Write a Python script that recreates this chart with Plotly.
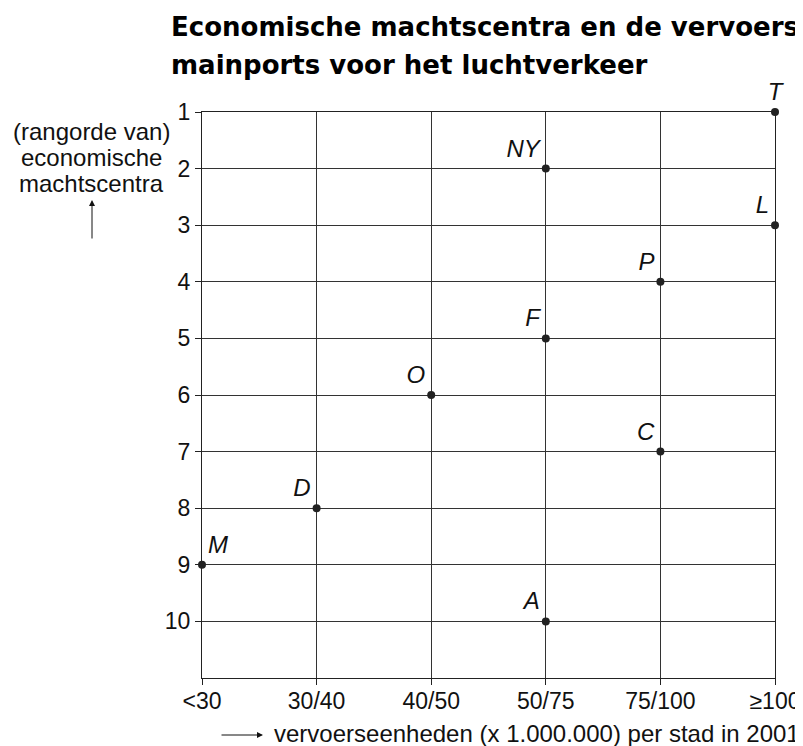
import plotly.graph_objects as go

# Data
categories = ["<30", "30/40", "40/50", "50/75", "75/100", "≥100"]
city_labels = ["M", "D", "O", "NY", "F", "A", "P", "C", "T", "L"]
city_x = [0, 1, 2, 3, 3, 3, 4, 4, 5, 5]          # category index
city_rank = [9, 8, 6, 2, 5, 10, 4, 7, 1, 3]
label_pos = ["top right", "top left", "top left", "top left", "top left",
             "top left", "top left", "top left", "top center", "top left"]
rank_ticks = list(range(1, 11))

FONT = "Liberation Sans, Arial, sans-serif"
TFONT = "DejaVu Sans, Liberation Sans, sans-serif"
OFF = 8                       # page body margin
W, H = 795, 738
L, T = 202 - OFF, 112 - OFF
PW, PH = 573, 566
R, B = W - L - PW, H - T - PH
X0, Y1 = 202, 678            # plot area left / bottom in window pixels


def px_x(x):
    return (x - X0) / PW


def px_y(y):
    return (Y1 - y) / PH


fig = go.Figure()
fig.add_trace(go.Scatter(
    x=city_x, y=city_rank, mode="markers+text",
    text=["<i>%s</i>" % s for s in city_labels],
    textposition=label_pos,
    textfont=dict(family=FONT, size=24, color="#111"),
    marker=dict(size=8, color="#222"),
    cliponaxis=False, showlegend=False, hoverinfo="skip",
))

axis_common = dict(
    showline=True, linecolor="#222", linewidth=1.2, mirror=True,
    showgrid=True, gridcolor="#333", gridwidth=1,
    ticks="outside", ticklen=6, tickcolor="#222",
    tickfont=dict(family=FONT, size=23, color="#111"),
    zeroline=False, fixedrange=True, automargin=False,
)
fig.update_xaxes(range=[0, 5], tickvals=list(range(len(categories))),
                 ticktext=categories, ticklabelstandoff=-4, **axis_common)
fig.update_yaxes(range=[11, 1], tickvals=rank_ticks, **axis_common)

annotations = [
    dict(text="<b>Economische machtscentra en de vervoers</b>", x=px_x(169), y=px_y(27),
         xanchor="left", yanchor="middle", font=dict(family=TFONT, size=26, color="#000")),
    dict(text="<b>mainports voor het luchtverkeer</b>", x=px_x(169), y=px_y(65),
         xanchor="left", yanchor="middle", font=dict(family=TFONT, size=26, color="#000")),
    dict(text="(rangorde van)", x=px_x(91), y=px_y(131),
         xanchor="center", yanchor="middle", font=dict(family=FONT, size=24, color="#111")),
    dict(text="economische", x=px_x(91), y=px_y(157),
         xanchor="center", yanchor="middle", font=dict(family=FONT, size=24, color="#111")),
    dict(text="machtscentra", x=px_x(91), y=px_y(183),
         xanchor="center", yanchor="middle", font=dict(family=FONT, size=24, color="#111")),
    dict(text="", x=px_x(92), y=px_y(200), ax=0, ay=40, showarrow=True,
         arrowhead=2, arrowsize=1.2, arrowwidth=1, arrowcolor="#111"),
    dict(text="vervoerseenheden (x 1.000.000) per stad in 2001", x=px_x(272), y=px_y(733),
         xanchor="left", yanchor="middle", font=dict(family=FONT, size=24, color="#111")),
    dict(text="", x=px_x(263), y=px_y(735), ax=-43, ay=0, showarrow=True,
         arrowhead=2, arrowsize=1.2, arrowwidth=1, arrowcolor="#111"),
]
for a in annotations:
    a.setdefault("showarrow", False)
    a["xref"] = "paper"
    a["yref"] = "paper"
    if a.get("showarrow"):
        a["axref"] = "pixel"
        a["ayref"] = "pixel"

fig.update_layout(
    width=W, height=H, margin=dict(l=L, r=R, t=T, b=B, autoexpand=False),
    paper_bgcolor="white", plot_bgcolor="white",
    annotations=annotations,
    font=dict(family=FONT),
)
fig.write_html("out.html")
